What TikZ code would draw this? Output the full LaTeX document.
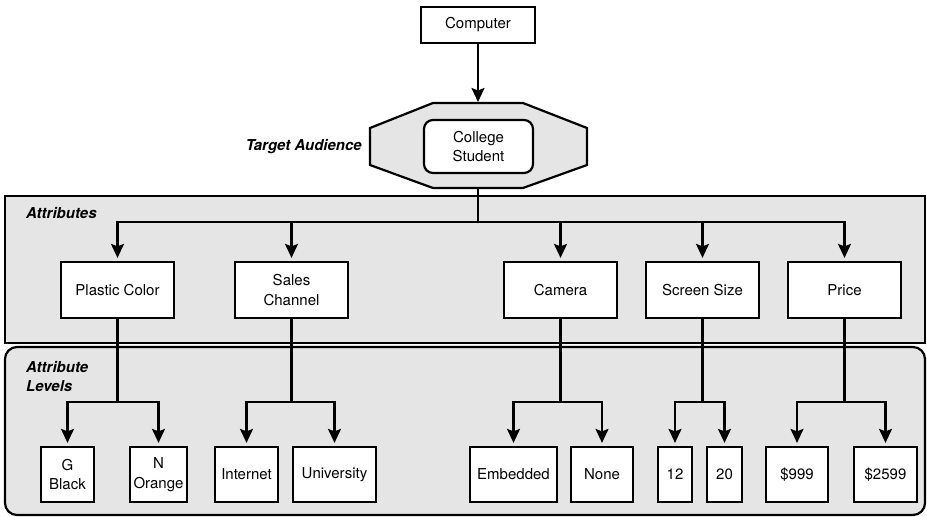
\documentclass[tikz,border=0pt]{standalone}
\usepackage{fontspec}
\setmainfont{TeX Gyre Heros}
\usetikzlibrary{arrows.meta}
\definecolor{panelgray}{HTML}{E5E5E5}
\newcommand\diagfont{\fontsize{15}{19.5}\selectfont}
\begin{document}
\begin{tikzpicture}[x=1pt,y=-1pt,
  every node/.style={font=\diagfont},
  box/.style={draw, line width=2.2pt, fill=white, inner sep=0pt, align=center, minimum height=#1},
  box/.default=55pt,
  panel/.style={draw, line width=2.2pt, fill=panelgray},
  conn/.style={line width=2.2pt},
  arr/.style={line width=2.2pt, -{Stealth[length=14pt,width=13pt,inset=2.5pt]}, shorten >=3pt},
  plabel/.style={font=\diagfont\bfseries\itshape, inner sep=0pt, align=left}
]
\useasboundingbox (0,0) rectangle (927,517);

% panels
\draw[panel, rounded corners=12pt] (5,347) rectangle (925,515);
\draw[panel] (5,196) rectangle (925,343);
\node[plabel, anchor=west] (lblattr) at (26,213) {Attributes};
\node[plabel, anchor=north west] (lbllev) at (26,361) {Attribute\\Levels};

% top
\node[box=36pt, minimum width=114pt] (comp) at (478,25) {Computer};
\draw[line width=2.2pt, fill=panelgray] (433,103) -- (523,103) -- (587,128) -- (587,165) -- (523,188) -- (433,188) -- (370,165) -- (370,128) -- cycle;
\coordinate (octtop) at (478,103);
\coordinate (octbot) at (478,188);
\node[box=53pt, minimum width=109pt, rounded corners=9pt] (stu) at (478.5,146.5) {College\\Student};
\node[plabel, anchor=east] (ta) at (362,147) {Target Audience};
\draw[arr, shorten >=1pt] (comp) -- (octtop);
\coordinate (bus) at (478,222);
\draw[conn] (octbot) -- (bus);

% attributes
\node[box=56pt, minimum width=113pt] (pc) at (117.5,290) {Plastic Color};
\node[box=56pt, minimum width=113pt] (sc) at (291.5,290) {Sales\\Channel};
\node[box=56pt, minimum width=113pt] (cam) at (560.5,290) {Camera};
\node[box=56pt, minimum width=113pt] (ss) at (702.5,290) {Screen Size};
\node[box=56pt, minimum width=113pt] (pr) at (844.5,290) {Price};
\foreach \n in {pc,sc,cam,ss,pr} { \draw[arr] (bus) -| (\n); }

% levels
\node[box, minimum width=53pt] (gb) at (67.5,474.5) {G\\Black};
\node[box, minimum width=57pt] (no) at (158.5,474.5) {N\\Orange};
\node[box, minimum width=63pt] (int) at (246.5,474.5) {Internet};
\node[box, minimum width=83pt] (uni) at (334.5,474.5) {University};
\node[box, minimum width=87pt] (emb) at (513.5,474.5) {Embedded};
\node[box, minimum width=62pt] (non) at (602,474.5) {None};
\node[box, minimum width=34pt] (l12) at (675,474.5) {12};
\node[box, minimum width=35pt] (l20) at (724.5,474.5) {20};
\node[box, minimum width=62pt] (p999) at (797,474.5) {\$999};
\node[box, minimum width=63pt] (p2599) at (885.5,474.5) {\$2599};

\foreach \p/\a/\b in {pc/gb/no, sc/int/uni, cam/emb/non, ss/l12/l20, pr/p999/p2599} {
  \coordinate (\p j) at (\p.south |- 0,402);
  \draw[conn] (\p) -- (\p j);
  \draw[arr] (\p j) -| (\a);
  \draw[arr] (\p j) -| (\b);
}
\end{tikzpicture}
\end{document}
